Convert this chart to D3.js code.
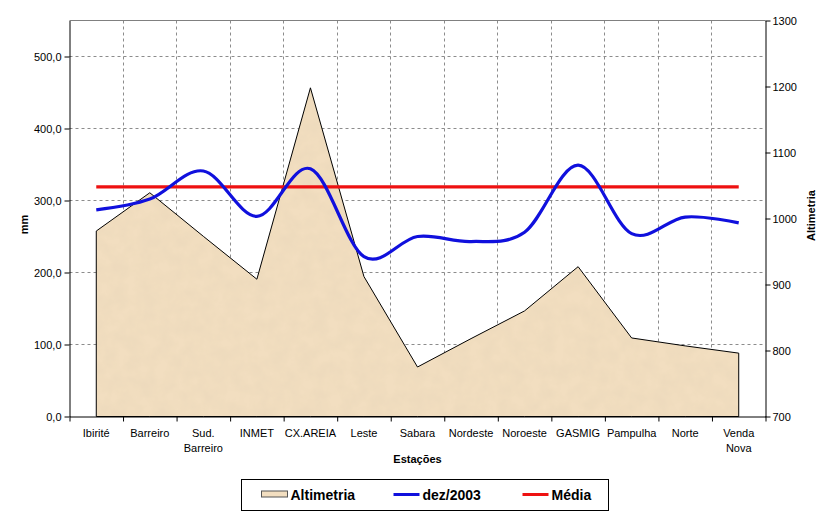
<!DOCTYPE html>
<html>
<head>
<meta charset="utf-8">
<script src="https://cdn.jsdelivr.net/npm/d3@7"></script>
<style>
  body { margin: 0; background: #fff; }
  svg { display: block; font-family: "Liberation Sans", Arial, sans-serif; }
</style>
</head>
<body>
<svg id="chart" width="829" height="514"></svg>
<script>
var estacoes = ['Ibirité', 'Barreiro', 'Sud. Barreiro', 'INMET', 'CX.AREIA', 'Leste', 'Sabara',
    'Nordeste', 'Noroeste', 'GASMIG', 'Pampulha', 'Norte', 'Venda Nova'];
var altimetria = [981, 1039, 973, 908, 1198, 912, 775, 818, 860, 927, 819, 807, 796];
var dez2003 = [287, 302, 341, 278, 344, 222, 250, 243, 256, 349, 254, 277, 269];
var media = [319, 319, 319, 319, 319, 319, 319, 319, 319, 319, 319, 319, 319];
var mmTicks = [0, 100, 200, 300, 400, 500];
var altTicks = [700, 800, 900, 1000, 1100, 1200, 1300];
var legendItems = ['Altimetria', 'dez/2003', 'Média'];

var margin = {top: 20.5, left: 69.5},
    width = 696,
    height = 396;

var svg = d3.select('#chart');

// paper texture for the area
var defs = svg.append('defs');
var filter = defs.append('filter').attr('id', 'paper')
    .attr('x', 0).attr('y', 0).attr('width', 1).attr('height', 1);
filter.append('feTurbulence')
    .attr('type', 'fractalNoise')
    .attr('baseFrequency', 0.07)
    .attr('numOctaves', 3)
    .attr('seed', 4)
    .attr('result', 'n');
filter.append('feColorMatrix')
    .attr('in', 'n')
    .attr('type', 'matrix')
    .attr('values', '0 0 0 0 0.8  0 0 0 0 0.66  0 0 0 0 0.48  0 0 0 0.8 -0.25')
    .attr('result', 'c');
filter.append('feComposite')
    .attr('in', 'c').attr('in2', 'SourceGraphic').attr('operator', 'in').attr('result', 'm');
var merge = filter.append('feMerge');
merge.append('feMergeNode').attr('in', 'SourceGraphic');
merge.append('feMergeNode').attr('in', 'm');

var g = svg.append('g')
    .attr('transform', 'translate(' + margin.left + ',' + margin.top + ')');

var x = d3.scaleBand().domain(estacoes).range([0, width]);
var xEdge = d3.scaleLinear().domain([0, estacoes.length]).range([0, width]);
var yLeft = d3.scaleLinear().domain([0, 550]).range([height, 0]);
var yRight = d3.scaleLinear().domain([700, 1300]).range([height, 0]);

function cx(d, i) { return x(estacoes[i]) + x.bandwidth() / 2; }

// grid
g.append('g').selectAll('line')
    .data(mmTicks.slice(1))
    .enter().append('line')
    .attr('x1', 0).attr('x2', width)
    .attr('y1', function(d) { return Math.round(yLeft(d)); })
    .attr('y2', function(d) { return Math.round(yLeft(d)); })
    .attr('stroke', '#8c8c8c')
    .attr('stroke-dasharray', '3,3');

g.append('g').selectAll('line')
    .data(d3.range(1, estacoes.length))
    .enter().append('line')
    .attr('x1', function(d) { return Math.round(xEdge(d)); })
    .attr('x2', function(d) { return Math.round(xEdge(d)); })
    .attr('y1', 0).attr('y2', height)
    .attr('stroke', '#8c8c8c')
    .attr('stroke-dasharray', '3,3');

g.append('line')
    .attr('x1', 0).attr('x2', width)
    .attr('y1', 0).attr('y2', 0)
    .attr('stroke', '#808080');

// Altimetria area
var area = d3.area()
    .x(cx)
    .y0(height)
    .y1(function(d) { return yRight(d); });

g.append('path')
    .datum(altimetria)
    .attr('d', area)
    .attr('fill', '#f2dec0')
    .attr('filter', 'url(#paper)');

g.append('path')
    .datum(altimetria)
    .attr('d', area)
    .attr('fill', 'none')
    .attr('stroke', '#000')
    .attr('stroke-width', 1);

// lines
var smooth = d3.line()
    .x(cx)
    .y(function(d) { return yLeft(d); })
    .curve(d3.curveCatmullRom.alpha(0));

var straight = d3.line()
    .x(cx)
    .y(function(d) { return yLeft(d); });

g.append('path')
    .datum(media)
    .attr('d', straight)
    .attr('fill', 'none')
    .attr('stroke', '#ee1111')
    .attr('stroke-width', 3.2);

g.append('path')
    .datum(dez2003)
    .attr('d', smooth)
    .attr('fill', 'none')
    .attr('stroke', '#1010dd')
    .attr('stroke-width', 3.2);

// axes
var fmt = function(d) { return d3.format('.1f')(d).replace('.', ','); };

var leftAxis = g.append('g')
    .call(d3.axisLeft(yLeft).tickValues(mmTicks).tickFormat(fmt).tickSize(5).tickSizeOuter(0));

var rightAxis = g.append('g')
    .attr('transform', 'translate(' + width + ',0)')
    .call(d3.axisRight(yRight).tickValues(altTicks).tickFormat(d3.format('d')).tickSize(5).tickSizeOuter(0));

var bottomTicks = g.append('g')
    .attr('transform', 'translate(0,' + height + ')')
    .call(d3.axisBottom(xEdge).tickValues(d3.range(0, estacoes.length + 1)).tickFormat('').tickSize(5).tickSizeOuter(0));

var bottomLabels = g.append('g')
    .attr('transform', 'translate(0,' + height + ')')
    .call(d3.axisBottom(x).tickSize(0));
bottomLabels.select('.domain').remove();

bottomLabels.selectAll('text').each(function(d) {
    var t = d3.select(this);
    var parts = d === 'Sud. Barreiro' ? ['Sud.', 'Barreiro'] : d === 'Venda Nova' ? ['Venda', 'Nova'] : [d];
    t.text(null).attr('y', 0).attr('dy', null);
    parts.forEach(function(p, k) {
        t.append('tspan').attr('x', 0).attr('y', 20 + k * 15).text(p);
    });
});

[leftAxis, rightAxis, bottomTicks, bottomLabels].forEach(function(a) {
    a.attr('font-family', null).attr('font-size', null);
    a.selectAll('text').attr('font-size', 11).attr('fill', '#000');
    a.selectAll('line').attr('stroke', '#000');
    a.selectAll('.domain').attr('stroke', '#000');
});
leftAxis.selectAll('text').attr('x', -8);
rightAxis.selectAll('text').attr('x', 7);

// axis titles
g.append('text')
    .attr('transform', 'translate(-42,' + (height / 2 + 6) + ') rotate(-90)')
    .attr('text-anchor', 'middle')
    .attr('font-size', 11)
    .attr('font-weight', 'bold')
    .text('mm');

g.append('text')
    .attr('transform', 'translate(' + (width + 49) + ',' + (height / 2 - 3) + ') rotate(-90)')
    .attr('text-anchor', 'middle')
    .attr('font-size', 11)
    .attr('font-weight', 'bold')
    .text('Altimetria');

g.append('text')
    .attr('x', width / 2)
    .attr('y', height + 46)
    .attr('text-anchor', 'middle')
    .attr('font-size', 11)
    .attr('font-weight', 'bold')
    .text('Estações');

// legend
var legend = svg.append('g').attr('transform', 'translate(241.5,479.5)');
legend.append('rect')
    .attr('width', 367).attr('height', 31)
    .attr('fill', '#fff').attr('stroke', '#000');

var legendX = [20, 152, 281];
legendItems.forEach(function(name, i) {
    var item = legend.append('g').attr('transform', 'translate(' + legendX[i] + ',15)');
    if (i === 0) {
        item.append('rect')
            .attr('x', 0).attr('y', -3.5).attr('width', 26).attr('height', 6)
            .attr('fill', '#f2dec0').attr('stroke', '#555');
    } else {
        item.append('line')
            .attr('x1', 0).attr('x2', 26)
            .attr('stroke', i === 1 ? '#1010dd' : '#ee1111')
            .attr('stroke-width', 3);
    }
    item.append('text')
        .attr('x', 29).attr('y', 5)
        .attr('font-size', 14)
        .attr('font-weight', 'bold')
        .text(name);
});
</script>
</body>
</html>
